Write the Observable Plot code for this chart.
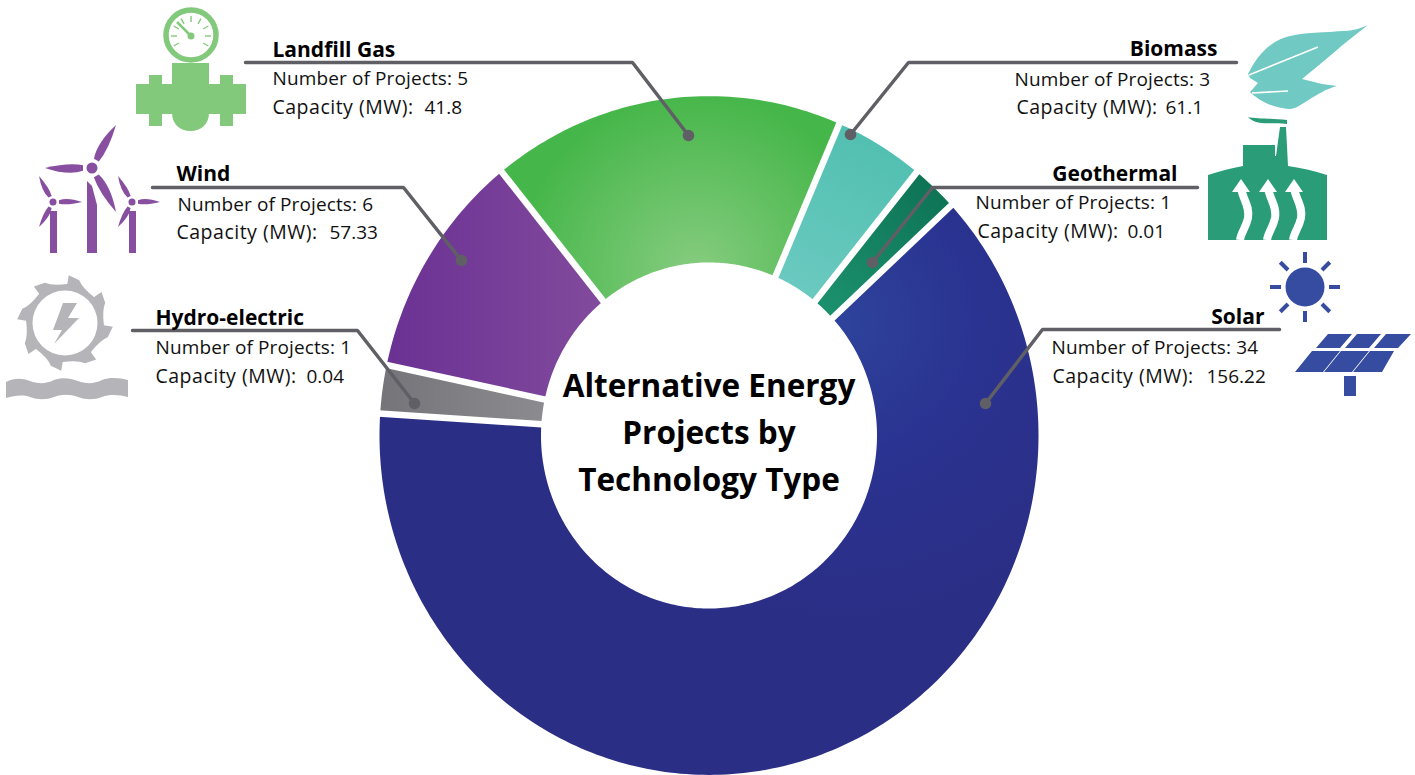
<!DOCTYPE html>
<html>
<head>
<meta charset="utf-8">
<script src="https://cdn.jsdelivr.net/npm/d3@7"></script>
<script src="https://cdn.jsdelivr.net/npm/@observablehq/plot@0.6"></script>
<style>
html,body{margin:0;padding:0;background:#fff;overflow:hidden}
svg{display:block}
.cap-label text{letter-spacing:.5px}
.num-label text{letter-spacing:.12px}
</style>
</head>
<body>
<script>
// ---- chart values -------------------------------------------------------
const technologies = ["Solar", "Hydro-electric", "Wind", "Landfill Gas", "Biomass", "Geothermal"];
const projectCounts = [34, 1, 6, 5, 3, 1];
const capacityLabels = ["156.22", "0.04", "57.33", "41.8", "61.1", "0.01"];
// Arc length of each slice, in degrees
const sliceDegrees = [226.4, 8.3, 39, 62.3, 15.8, 8.2];
const titleLines = ["Alternative Energy", "Projects by", "Technology Type"];

// ---- layout -------------------------------------------------------------
const W = 1415, H = 775;
const ring = {cx: 708.5, cy: 435, r0: 168, r1: 329.5, stretch: 1.03, start: 47.3};
const labelFont = "Open Sans";
const labelLayout = {
  "Solar":          {title: [1264, 323, "end"],   numAt: [1051, 353], capAt: [1052, 382], valueX: 1206},
  "Hydro-electric": {title: [155, 324, "start"],  numAt: [155, 353],  capAt: [155, 382],  valueX: 306},
  "Wind":           {title: [176, 180, "start"],  numAt: [177, 210],  capAt: [176, 238],  valueX: 329},
  "Landfill Gas":   {title: [272, 56, "start"],   numAt: [272, 84],   capAt: [272, 113],  valueX: 424},
  "Biomass":        {title: [1217, 55, "end"],    numAt: [1014, 85],  capAt: [1016, 113], valueX: 1165},
  "Geothermal":     {title: [1177, 180, "end"],   numAt: [975, 208],  capAt: [977, 237],  valueX: 1127}
};
const leaderLayout = {
  "Solar":          [[1279, 329], [1042, 329], [985, 403]],
  "Hydro-electric": [[132, 330], [357, 330], [414, 403]],
  "Wind":           [[152, 187], [403, 187], [461, 260]],
  "Landfill Gas":   [[245, 62], [632, 62], [688, 135]],
  "Biomass":        [[1236, 62], [908, 62], [850, 134]],
  "Geothermal":     [[1197, 187], [932, 187], [872, 262]]
};

// ---- geometry derived from the values ------------------------------------
const polar = (deg, r) => {
  const a = deg * Math.PI / 180;
  return [ring.cx + r * Math.sin(a), ring.cy - r * ring.stretch * Math.cos(a)];
};
let cursor = ring.start;
const slices = technologies.map((name, i) => {
  const a0 = cursor, a1 = cursor + sliceDegrees[i];
  cursor = a1;
  const steps = Math.max(8, Math.ceil(sliceDegrees[i]));
  const pts = [];
  for (let s = 0; s <= steps; s++) pts.push(polar(a0 + (a1 - a0) * s / steps, ring.r1));
  for (let s = steps; s >= 0; s--) pts.push(polar(a0 + (a1 - a0) * s / steps, ring.r0));
  return {name, a0, a1, pts, id: "grad" + i};
});
const gaps = slices.map(s => {
  const [x1, y1] = polar(s.a0, ring.r0 - 4), [x2, y2] = polar(s.a0, ring.r1 + 5);
  return {x1, y1, x2, y2};
});

// ---- gradients -----------------------------------------------------------
function gradientDefs() {
  const stops = a => a.map(([o, c]) => `<stop offset="${o}" stop-color="${c}"/>`).join("");
  const lin = (id, x1, y1, x2, y2, a) => `<linearGradient id="${id}" gradientUnits="userSpaceOnUse" x1="${x1}" y1="${y1}" x2="${x2}" y2="${y2}">${stops(a)}</linearGradient>`;
  const rad = (id, cx, cy, r, a) => `<radialGradient id="${id}" gradientUnits="userSpaceOnUse" cx="${cx}" cy="${cy}" r="${r}">${stops(a)}</radialGradient>`;
  const g = d3.create("svg:g");
  g.append("defs").html(
    rad("grad0", 840, 320, 300, [[0, "#2e439b"], [0.45, "#2a3391"], [1, "#2b2e85"]]) +
    lin("grad1", 380, 0, 545, 0, [[0, "#747479"], [1, "#8c8b90"]]) +
    lin("grad2", 385, 0, 605, 0, [[0, "#6a3194"], [1, "#824b9c"]]) +
    rad("grad3", 695, 270, 180, [[0, "#86cc7f"], [1, "#45b649"]]) +
    lin("grad4", 880, 130, 800, 290, [[0, "#50bfb0"], [1, "#6ac9c0"]]) +
    lin("grad5", 930, 175, 820, 310, [[0, "#0d7354"], [1, "#1c916e"]])
  );
  return g.node();
}

// ---- pictograms ----------------------------------------------------------
function blade(hx, hy, tx, ty, w, gap) {
  const dx = tx - hx, dy = ty - hy, L = Math.hypot(dx, dy), ux = dx / L, uy = dy / L, nx = -uy, ny = ux;
  const sx = hx + ux * gap, sy = hy + uy * gap;
  const mx = hx + dx * 0.5, my = hy + dy * 0.5;
  return `M${sx - nx * w * .35},${sy - ny * w * .35}Q${mx - nx * w},${my - ny * w} ${tx},${ty}Q${mx + nx * w * .7},${my + ny * w * .7} ${sx + nx * w * .35},${sy + ny * w * .35}Z`;
}
function gearPath(cx, cy) {
  let d = "";
  const n = 8;
  for (let i = 0; i < n; i++) {
    const a = -Math.PI / 2 + 0.06 + i * 2 * Math.PI / n;
    const p = (r, t) => [cx + r * Math.cos(a + t), cy + r * Math.sin(a + t)].map(v => v.toFixed(1)).join(",");
    d += (i ? "L" : "M") + p(39, 0) + "L" + p(48, 0.02) + "L" + p(45, 0.26) + "Q" + p(39, 0.4) + " " + p(39, 0.78);
  }
  return d + "Z";
}
function icons() {
  const g = d3.create("svg:g");
  let h = "";
  // Landfill gas
  const gaugeTicks = [-120, -90, -60, -30, 0, 30, 60, 90, 120].map(t => {
    const a = t * Math.PI / 180, s = Math.sin(a), c = Math.cos(a);
    return `<line x1="${191 + 14 * s}" y1="${36 - 14 * c}" x2="${191 + 20 * s}" y2="${36 - 20 * c}"/>`;
  }).join("");
  h += `<g fill="#83c97c" stroke="none">
    <circle cx="191" cy="35" r="25" fill="#fff" stroke="#83c97c" stroke-width="5.5"/>
    <g stroke="#83c97c" stroke-width="1.4">${gaugeTicks}</g>
    <line x1="191" y1="36" x2="177" y2="22" stroke="#83c97c" stroke-width="2.5"/>
    <circle cx="191" cy="36" r="3.5"/>
    <rect x="136" y="84" width="110" height="30"/><rect x="149" y="75" width="13" height="51"/><rect x="220" y="75" width="13" height="51"/>
    <path d="M172,63H209V113C209,124 201,131 190.500,131C180,131 172,124 172,113Z"/></g>`;
  // Wind
  h += `<g fill="#884fa0">
    <path d="${blade(92, 168, 116, 125, 8, 9)}"/><path d="${blade(92, 168, 45, 168, 8, 9)}"/><path d="${blade(92, 168, 116, 212, 8, 9)}"/>
    <circle cx="92" cy="168" r="5.5"/><path d="M87,181L92,186L97,205V253H87Z"/>
    <path d="${blade(53, 202, 39, 176, 5, 6)}"/><path d="${blade(53, 202, 82, 202, 5, 6)}"/><path d="${blade(53, 202, 39, 227, 5, 6)}"/>
    <circle cx="53" cy="202" r="3.5"/><rect x="50" y="211" width="7" height="42"/>
    <path d="${blade(132, 202, 118, 176, 5, 6)}"/><path d="${blade(132, 202, 160, 202, 5, 6)}"/><path d="${blade(132, 202, 118, 227, 5, 6)}"/>
    <circle cx="132" cy="202" r="3.5"/><rect x="129" y="211" width="7" height="42"/></g>`;
  // Hydro-electric
  h += `<g fill="#b5b4b9">
    <path d="${gearPath(65, 323)}"/><circle cx="65" cy="323" r="32.500" fill="#fff"/>
    <path d="M63,303H77L68,318H79L54,344L62,330H53Z"/>
    <path d="M6,382C14,378 22,378 30,381C38,384 46,384 54,380C62,377 70,378 78,381C86,384 94,384 102,380C110,377 120,378 128,380V397C120,395 110,394 102,397C94,400 86,400 78,397C70,394 62,394 54,397C46,400 38,400 30,397C22,394 14,396 6,398Z"/></g>`;
  // Biomass
  h += `<path fill="#70c9c3" d="M1368,25C1350,33 1345,30 1330,32C1310,33 1290,33 1275,42C1262,50 1254,62 1248,74L1250,78L1258,83L1250,92C1258,100 1272,108 1290,109C1300,109 1315,92 1337,86L1322,84L1302,79C1320,65 1345,42 1368,25Z"/>
    <path stroke="#fff" stroke-width="1.6" fill="none" d="M1249,75L1318,47M1252,93L1288,91"/>`;
  // Geothermal
  h += `<path fill="#2a9d78" d="M1208,240V175C1220,171 1232,168 1243,166V145H1275V156L1276,156L1280,127H1286L1288,166C1302,168 1315,171 1327,175V240Z"/>
    <path fill="#2a9d78" d="M1248,117C1256,119 1270,118 1287,120V124C1270,122 1256,126 1248,117Z"/>
    <g stroke="#fff" stroke-width="8" fill="none">
    <path d="M1241,188C1243,200 1250,206 1248,218C1246,228 1241,232 1240,240"/>
    <path d="M1268,188C1270,200 1277,206 1275,218C1273,228 1268,232 1267,240"/>
    <path d="M1294,188C1296,200 1303,206 1301,218C1299,228 1294,232 1293,240"/></g>
    <path fill="#fff" d="M1241,179L1232,192H1250ZM1268,179L1259,192H1277ZM1294,179L1285,192H1303Z"/>`;
  // Solar
  const rays = d3.range(8).map(i => {
    const a = i * Math.PI / 4, c = Math.cos(a), s = Math.sin(a);
    return `<line x1="${1305 + 24 * c}" y1="${287 + 24 * s}" x2="${1305 + 35 * c}" y2="${287 + 35 * s}"/>`;
  }).join("");
  h += `<g fill="#354ca1"><circle cx="1305" cy="287" r="19.500"/><g stroke="#354ca1" stroke-width="4">${rays}</g>
    <path d="M1328,334H1352L1340,348H1316ZM1357,334H1381L1369,348H1345ZM1386,334H1411L1398,348H1374Z"/>
    <path d="M1312,351H1340L1323,372H1295ZM1341,351H1369L1352,372H1324ZM1370,351H1394L1382,372H1353Z"/>
    <rect x="1344" y="376" width="12" height="20"/></g>`;
  g.html(h);
  return g.node();
}

// ---- marks ---------------------------------------------------------------
const titleData = titleLines.map((line, i) => ({line, y: [396, 443, 490][i]}));
const textCommon = {fontFamily: labelFont, lineAnchor: "bottom", fill: "#111"};
const labelRows = technologies.map((name, i) => ({name, count: projectCounts[i], value: capacityLabels[i], ...labelLayout[name]}));

const chart = Plot.plot({
  width: W, height: H,
  marginTop: 0, marginRight: 0, marginBottom: 0, marginLeft: 0,
  x: {domain: [0, W], axis: null},
  y: {domain: [H, 0], axis: null},
  style: {background: "#fff"},
  marks: [
    gradientDefs,
    ...slices.map(s => Plot.line(s.pts, {x: p => p[0], y: p => p[1], fill: `url(#${s.id})`, stroke: "none", curve: "linear"})),
    Plot.link(gaps, {x1: "x1", y1: "y1", x2: "x2", y2: "y2", stroke: "#fff", strokeWidth: 6.5}),
    ...technologies.map(name => Plot.line(leaderLayout[name], {x: p => p[0], y: p => p[1], stroke: "#5f5f65", strokeWidth: 3.5, strokeLinejoin: "miter"})),
    Plot.dot(technologies.map(name => leaderLayout[name][2]), {x: p => p[0], y: p => p[1], r: 5.8, fill: "#5f5f65", stroke: "none"}),
    icons,
    Plot.text(labelRows, {...textCommon, x: d => d.title[0], y: d => d.title[1], text: "name", textAnchor: "start", filter: d => d.title[2] === "start", fontWeight: 700, fontSize: 21, fill: "#000"}),
    Plot.text(labelRows, {...textCommon, x: d => d.title[0], y: d => d.title[1], text: "name", textAnchor: "end", filter: d => d.title[2] === "end", fontWeight: 700, fontSize: 21, fill: "#000"}),
    Plot.text(labelRows, {...textCommon, className: "num-label", x: d => d.numAt[0], y: d => d.numAt[1], text: d => `Number of Projects: ${d.count}`, textAnchor: "start", fontSize: 19}),
    Plot.text(labelRows, {...textCommon, className: "cap-label", x: d => d.capAt[0], y: d => d.capAt[1], text: () => "Capacity (MW):", textAnchor: "start", fontSize: 19.5}),
    Plot.text(labelRows, {...textCommon, x: "valueX", y: d => d.capAt[1], text: "value", textAnchor: "start", fontSize: 19}),
    Plot.text(titleData, {x: () => ring.cx, y: "y", text: "line", textAnchor: "middle", lineAnchor: "bottom", fontFamily: labelFont, fontWeight: 700, fontSize: 31.5, fill: "#000"})
  ]
});
document.body.append(chart);
</script>
</body>
</html>
